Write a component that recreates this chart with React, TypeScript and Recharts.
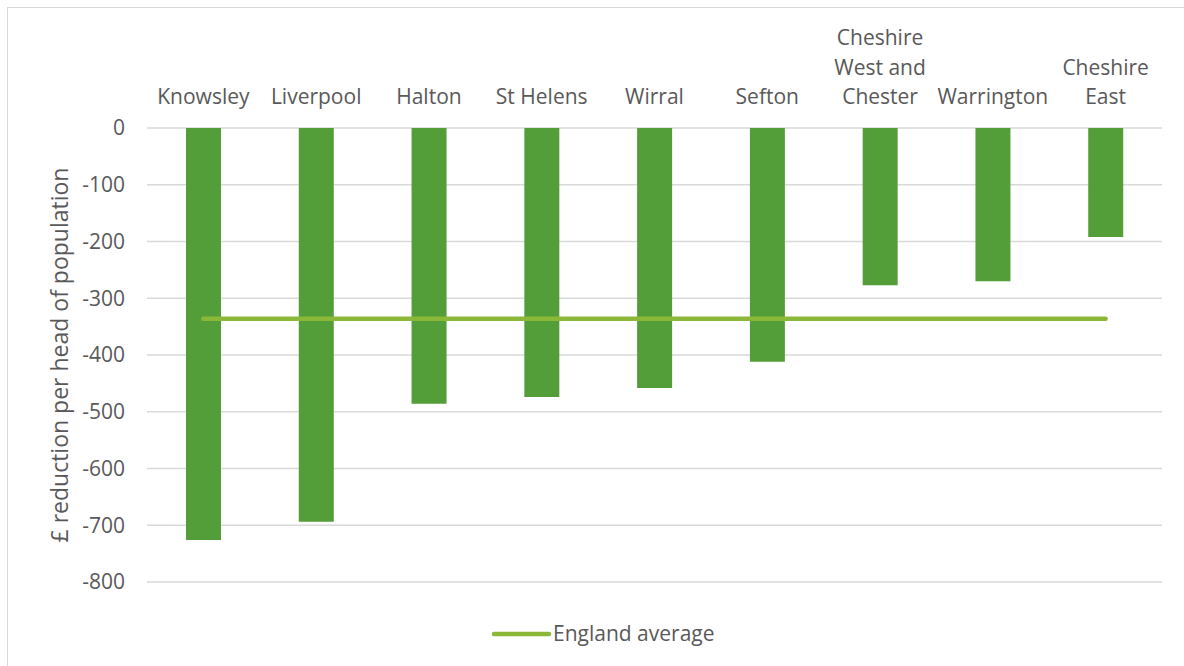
import React from 'react';
import { ComposedChart, Bar, Line, XAxis, YAxis, CartesianGrid, Legend } from 'recharts';

const categories = [
  'Knowsley',
  'Liverpool',
  'Halton',
  'St Helens',
  'Wirral',
  'Sefton',
  'Cheshire West and Chester',
  'Warrington',
  'Cheshire East',
];
const categoryLabelLines: string[][] = [
  ['Knowsley'],
  ['Liverpool'],
  ['Halton'],
  ['St Helens'],
  ['Wirral'],
  ['Sefton'],
  ['Cheshire', 'West and', 'Chester'],
  ['Warrington'],
  ['Cheshire', 'East'],
];
const reductionPerHead = [-726, -694, -486, -474, -458, -412, -277, -270, -192];
const englandAverage = [-336, -336, -336, -336, -336, -336, -336, -336, -336];
const yTicks = [0, -100, -200, -300, -400, -500, -600, -700, -800];
const seriesNames = { bars: 'Reduction per head', line: 'England average' };
const yAxisTitle = '£ reduction per head of population';

const data = categories.map((c, i) => ({
  name: c,
  lines: categoryLabelLines[i],
  value: reductionPerHead[i],
  avg: englandAverage[i],
}));

const FONT = '"Open Sans", sans-serif';
const TEXT = '#595959';
const BAR = '#549e39';
const LINE = '#8cb83a';

const TopTick = (props: any) => {
  const { x, payload } = props;
  const lines: string[] = categoryLabelLines[payload.index] || [String(payload.value)];
  const baseY = 96;
  const lh = 29.5;
  return (
    <g>
      {lines.map((l, i) => (
        <text
          key={i}
          x={x}
          y={baseY - (lines.length - 1 - i) * lh}
          textAnchor="middle"
          fill={TEXT}
          fontSize={21}
          fontFamily={FONT}
        >
          {l}
        </text>
      ))}
    </g>
  );
};

const LegendContent = () => (
  <div style={{ position: 'relative', height: 24, width: '100%' }}>
    <svg
      width={260}
      height={24}
      style={{ position: 'absolute', left: 483, top: 0, overflow: 'visible' }}
    >
      <line x1={3} y1={12} x2={58} y2={12} stroke={LINE} strokeWidth={4.5} strokeLinecap="round" />
      <text x={62} y={19} fill={TEXT} fontSize={21} fontFamily={FONT}>
        {seriesNames.line}
      </text>
    </svg>
  </div>
);

export default function App() {
  return (
    <div style={{ position: 'fixed', left: 0, top: 0, width: 1184, height: 666, overflow: 'hidden', background: '#fff' }}>
      <div
        style={{
          position: 'absolute',
          left: 7,
          top: 7,
          width: 1200,
          height: 700,
          border: '1px solid #d9d9d9',
          background: '#fff',
        }}
      >
        <ComposedChart
          width={1176}
          height={658}
          data={data}
          margin={{ top: 0, right: 22, left: 0, bottom: 60 }}
        >
          <CartesianGrid vertical={false} stroke="#d9d9d9" strokeWidth={1.3} />
          <XAxis
            dataKey="name"
            orientation="top"
            height={120}
            axisLine={false}
            tickLine={false}
            tick={<TopTick />}
            interval={0}
          />
          <YAxis
            type="number"
            domain={[-800, 0]}
            ticks={yTicks}
            width={139}
            axisLine={false}
            tickLine={false}
            tickSize={0}
            tickMargin={22}
            tick={{ fill: TEXT, fontSize: 21, fontFamily: FONT }}
            label={{
              value: yAxisTitle,
              angle: -90,
              position: 'insideLeft',
              offset: 0,
              dx: 52,
              style: { fill: TEXT, fontSize: 23, fontFamily: FONT, textAnchor: 'middle' },
            }}
          />
          <Legend verticalAlign="bottom" wrapperStyle={{ bottom: 20 }} content={<LegendContent />} />
          <Bar dataKey="value" name={seriesNames.bars} fill={BAR} barSize={35} isAnimationActive={false} legendType="none" />
          <Line
            dataKey="avg"
            name={seriesNames.line}
            stroke={LINE}
            strokeWidth={4.5}
            strokeLinecap="round"
            dot={false}
            activeDot={false}
            isAnimationActive={false}
          />
        </ComposedChart>
      </div>
    </div>
  );
}
